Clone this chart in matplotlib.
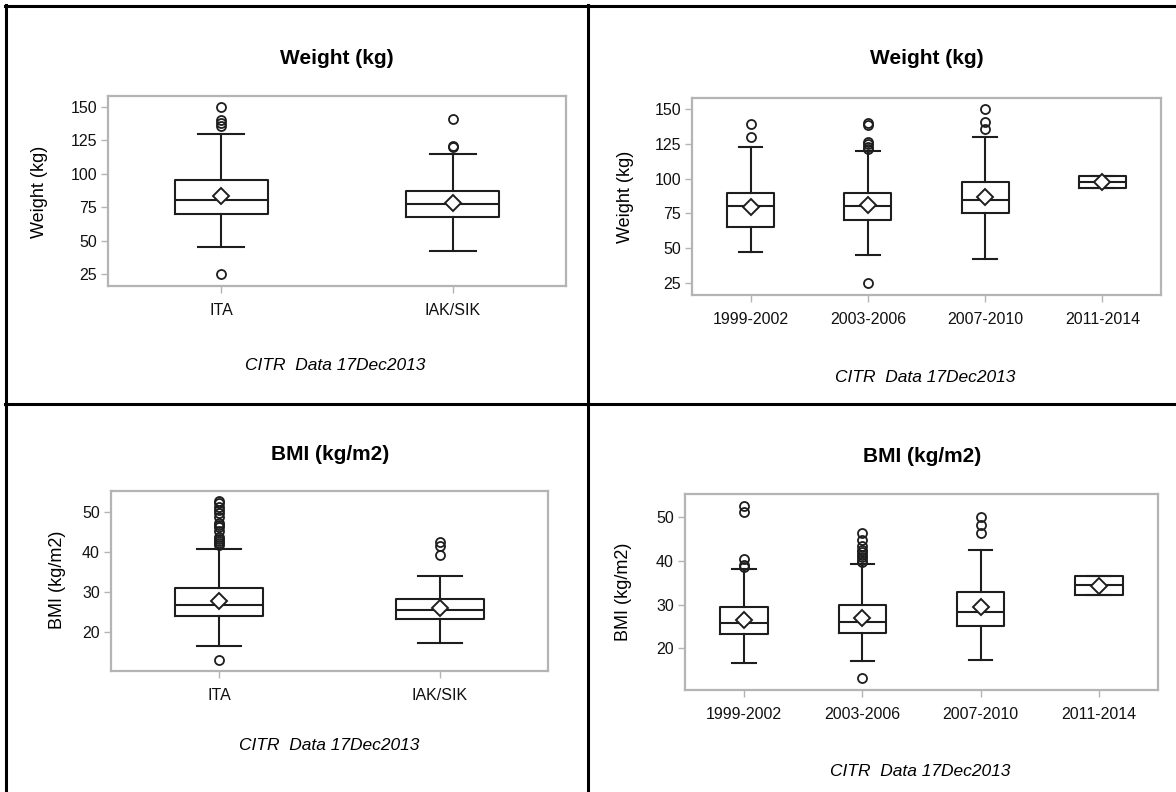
import matplotlib
matplotlib.use("Agg")
import matplotlib.pyplot as plt
from matplotlib.lines import Line2D

plt.rcParams['font.family'] = ['Liberation Sans', 'DejaVu Sans']

W, H = 1176, 792

# ---------------- data ----------------
group_cats = ["ITA", "IAK/SIK"]
period_cats = ["1999-2002", "2003-2006", "2007-2010", "2011-2014"]

# Weight by group: whislo, q1, median, q3, whishi, mean
wt_grp_whislo = [45, 42]
wt_grp_q1 = [70, 68]
wt_grp_med = [80.5, 77]
wt_grp_q3 = [95, 87]
wt_grp_whishi = [130, 115]
wt_grp_mean = [83.5, 78]
wt_grp_fliers = [[150, 140, 138, 135.5, 25], [141, 121, 120]]

# Weight by period
wt_per_whislo = [47, 45, 42, 93]
wt_per_q1 = [65, 70, 75, 93]
wt_per_med = [80, 80, 84.5, 97.5]
wt_per_q3 = [89.5, 89.5, 97.5, 102]
wt_per_whishi = [123, 120, 130, 102]
wt_per_mean = [79.5, 81, 86.8, 97.4]
wt_per_fliers = [[139.5, 130],
                 [140, 139, 126.5, 125, 123, 121.5, 25],
                 [150, 141, 136],
                 []]

# BMI by group
bmi_grp_whislo = [16.5, 17.3]
bmi_grp_q1 = [24, 23.2]
bmi_grp_med = [26.8, 25.6]
bmi_grp_q3 = [31, 28.3]
bmi_grp_whishi = [40.8, 34]
bmi_grp_mean = [27.9, 26]
bmi_grp_fliers = [[52.6, 52, 51.2, 50.4, 49.6, 48.6, 47.2, 46.6, 46.2, 45.2,
                   43.8, 43.2, 42.6, 42.2, 41.8, 13.1],
                  [42.4, 41.5, 39.2]]

# BMI by period
bmi_per_whislo = [16.7, 17.2, 17.4, 32.2]
bmi_per_q1 = [23.3, 23.6, 25.1, 32.2]
bmi_per_med = [25.9, 26, 28.4, 34.4]
bmi_per_q3 = [29.4, 30, 32.9, 36.6]
bmi_per_whishi = [38.2, 39.4, 42.5, 36.6]
bmi_per_mean = [26.5, 27, 29.4, 34.3]
bmi_per_fliers = [[52.5, 51.3, 40.4, 39, 38.6],
                  [46.3, 44.8, 43.4, 42.6, 42, 41.4, 40.8, 40.2, 39.8, 13.3],
                  [50.1, 48.3, 46.5],
                  []]

weight_ticks = [25, 50, 75, 100, 125, 150]
bmi_ticks = [20, 30, 40, 50]

title_weight = "Weight (kg)"
title_bmi = "BMI (kg/m2)"
footnote = "CITR  Data 17Dec2013"


def make_stats(lo, q1, med, q3, hi, mean, fl):
    return [dict(whislo=a, q1=b, med=c, q3=d, whishi=e, mean=m, fliers=f)
            for a, b, c, d, e, m, f in zip(lo, q1, med, q3, hi, mean, fl)]


fig = plt.figure(figsize=(W / 100, H / 100), dpi=100)

LINE = '#1e1e1e'
FRAME = '#b4b4b4'
TITLE_FS = 15
LABEL_FS = 13
TICK_FS = 11.5
FOOT_FS = 12.5


def px_axes(x0, y0, x1, y1):
    return fig.add_axes([x0 / W, 1 - y1 / H, (x1 - x0) / W, (y1 - y0) / H])


def draw(ax, stats, cats, ylim, yticks):
    pos = list(range(len(cats)))
    ax.bxp(stats, positions=pos, widths=0.4, showmeans=True,
           manage_ticks=False,
           boxprops=dict(color=LINE, linewidth=1.5),
           whiskerprops=dict(color=LINE, linewidth=1.5),
           capprops=dict(color=LINE, linewidth=1.5),
           medianprops=dict(color=LINE, linewidth=1.5),
           meanprops=dict(marker='D', markerfacecolor='white',
                          markeredgecolor=LINE, markersize=8.5,
                          markeredgewidth=1.4),
           flierprops=dict(marker='o', markerfacecolor='none',
                           markeredgecolor=LINE, markersize=6.5,
                           markeredgewidth=1.3, linestyle='none'))
    ax.set_xlim(-0.49 if len(cats) == 2 else -0.5,
                1.49 if len(cats) == 2 else 3.5)
    ax.set_ylim(*ylim)
    ax.set_yticks(yticks)
    ax.set_xticks(pos)
    ax.set_xticklabels(cats)
    for s in ax.spines.values():
        s.set_color(FRAME)
        s.set_linewidth(1.6)
    ax.tick_params(axis='both', colors=FRAME, length=5, width=1,
                   labelcolor='#111111', labelsize=TICK_FS)
    ax.tick_params(axis='x', pad=7)
    ax.tick_params(axis='y', pad=3)


def ftext(x, y, s, **kw):
    fig.text(x / W, 1 - y / H, s, ha='center', va='center', **kw)


# Top-left
ax1 = px_axes(108, 96, 566, 286)
draw(ax1, make_stats(wt_grp_whislo, wt_grp_q1, wt_grp_med, wt_grp_q3,
                     wt_grp_whishi, wt_grp_mean, wt_grp_fliers),
     group_cats, (16, 158.2), weight_ticks)
ftext(337, 59, title_weight, fontsize=TITLE_FS, fontweight='bold')
ftext(40, 192, title_weight, fontsize=LABEL_FS, rotation=90)
ftext(335, 365, footnote, fontsize=FOOT_FS, style='italic')

# Top-right
ax2 = px_axes(692, 98, 1161, 295)
draw(ax2, make_stats(wt_per_whislo, wt_per_q1, wt_per_med, wt_per_q3,
                     wt_per_whishi, wt_per_mean, wt_per_fliers),
     period_cats, (16, 158.2), weight_ticks)
ftext(927, 59, title_weight, fontsize=TITLE_FS, fontweight='bold')
ftext(625, 197, title_weight, fontsize=LABEL_FS, rotation=90)
ftext(925, 377, footnote, fontsize=FOOT_FS, style='italic')

# Bottom-left
ax3 = px_axes(111, 491, 548, 671)
draw(ax3, make_stats(bmi_grp_whislo, bmi_grp_q1, bmi_grp_med, bmi_grp_q3,
                     bmi_grp_whishi, bmi_grp_mean, bmi_grp_fliers),
     group_cats, (10.4, 55.1), bmi_ticks)
ftext(330, 455, title_bmi, fontsize=TITLE_FS, fontweight='bold')
ftext(57, 580, "BMI (kg/m2)", fontsize=LABEL_FS, rotation=90)
ftext(329, 746, footnote, fontsize=FOOT_FS, style='italic')

# Bottom-right
ax4 = px_axes(685, 494, 1158, 690)
draw(ax4, make_stats(bmi_per_whislo, bmi_per_q1, bmi_per_med, bmi_per_q3,
                     bmi_per_whishi, bmi_per_mean, bmi_per_fliers),
     period_cats, (10.5, 55.3), bmi_ticks)
ftext(922, 457, title_bmi, fontsize=TITLE_FS, fontweight='bold')
ftext(624, 592, "BMI (kg/m2)", fontsize=LABEL_FS, rotation=90)
ftext(920, 772, footnote, fontsize=FOOT_FS, style='italic')

# Panel borders
def hline(y, x0, x1):
    fig.add_artist(Line2D([x0 / W, x1 / W], [1 - y / H, 1 - y / H],
                          transform=fig.transFigure, color='black', lw=2.2))


def vline(x, y0, y1):
    fig.add_artist(Line2D([x / W, x / W], [1 - y0 / H, 1 - y1 / H],
                          transform=fig.transFigure, color='black', lw=2.2))


hline(6, 5, W)
hline(403.5, 5, W)
vline(6, 5, H)
vline(587.5, 5, H)

fig.savefig("out.png", dpi=100)
